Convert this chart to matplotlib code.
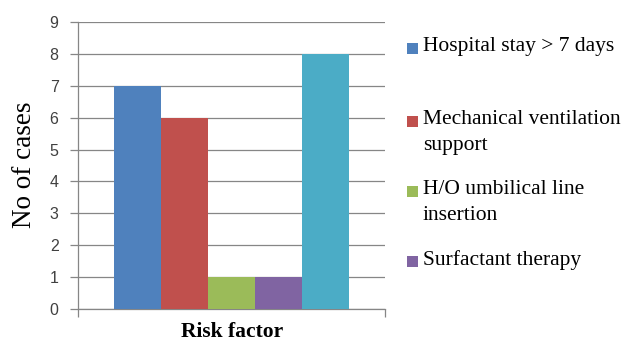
import matplotlib
matplotlib.use("Agg")
import matplotlib.pyplot as plt
from matplotlib.patches import Rectangle

series = ["Hospital stay > 7 days", "Mechanical ventilation\nsupport",
          "H/O umbilical line\ninsertion", "Surfactant therapy", ""]
values = [7, 6, 1, 1, 8]
colors = ["#4F81BD", "#C0504D", "#9BBB59", "#8064A2", "#4BACC6"]
yticks = list(range(0, 10))
xlabel = "Risk factor"
ylabel = "No of cases"

W, H = 626, 343
fig = plt.figure(figsize=(W / 100, H / 100), dpi=100)
ax = fig.add_axes([78 / W, 1 - 309 / H, (385 - 78) / W, (309 - 22) / H])

bw = 47.2 / 307
for i, (v, c) in enumerate(zip(values, colors)):
    ax.bar(0.5 + (i - 2) * bw, v, width=bw, color=c, zorder=3)

ax.set_xlim(0, 1)
ax.set_ylim(0, 9)
ax.set_yticks(yticks)
ax.set_xticks([0, 1])
ax.set_xticklabels([])
ax.yaxis.grid(True, color="#868686", linewidth=0.9, zorder=0)
for s in ["top", "right"]:
    ax.spines[s].set_visible(False)
for s in ["left", "bottom"]:
    ax.spines[s].set_color("#868686")
    ax.spines[s].set_linewidth(0.9)
ax.tick_params(axis="both", direction="out", color="#868686", length=6, width=0.9)
ax.tick_params(axis="y", pad=8, labelsize=11.5, labelcolor="#404040")
for lab in ax.get_yticklabels():
    lab.set_fontfamily("Liberation Sans")

fig.text(25 / W, 1 - 165 / H, ylabel, rotation=90, ha="center", va="center",
         fontsize=19.5, family="Liberation Serif")
fig.text(232 / W, 1 - 332 / H, xlabel, ha="center", va="center",
         fontsize=15.5, fontweight="bold", family="Liberation Serif")

# legend (first four series, fifth entry is cut off in the original)
leg_y = [48, 121, 191, 261]
for i in range(4):
    y = leg_y[i]
    fig.patches.append(Rectangle((407 / W, 1 - (y + 5.5) / H), 11 / W, 11 / H,
                                 transform=fig.transFigure, facecolor=colors[i],
                                 edgecolor="none"))
    fig.text(423 / W, 1 - (y - 10.5) / H, series[i], ha="left", va="top",
             fontsize=15.5, family="Liberation Serif", linespacing=1.45)

fig.savefig("out.png", dpi=100)
